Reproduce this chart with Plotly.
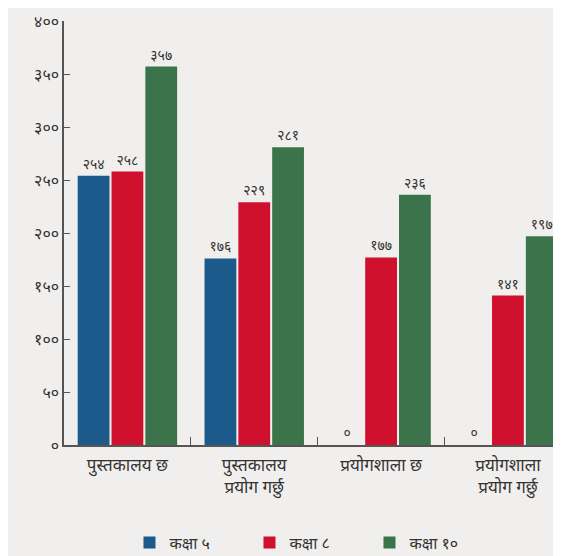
import plotly.graph_objects as go

categories = ["पुस्तकालय छ", "पुस्तकालय<br>प्रयोग गर्छु", "प्रयोगशाला छ", "प्रयोगशाला<br>प्रयोग गर्छु"]
series_names = ["कक्षा ५", "कक्षा ८", "कक्षा १०"]
class5 = [254, 176, 0, 0]
class8 = [258, 229, 177, 141]
class10 = [357, 281, 236, 197]
class5_text = ["२५४", "१७६", "०", "०"]
class8_text = ["२५८", "२२९", "१७७", "१४१"]
class10_text = ["३५७", "२८१", "२३६", "१९७"]
ytick_vals = [0, 50, 100, 150, 200, 250, 300, 350, 400]
ytick_text = ["०", "५०", "१००", "१५०", "२००", "२५०", "३००", "३५०", "४००"]
colors = ["#1b5a8a", "#d0112e", "#3b744a"]

fig = go.Figure()
for name, vals, txt, col in zip(series_names, [class5, class8, class10],
                                [class5_text, class8_text, class10_text], colors):
    fig.add_trace(go.Bar(
        x=categories, y=vals, name=name, text=txt, textposition="outside",
        textfont=dict(size=14, color="#333333"), cliponaxis=False,
        marker=dict(color=col, line=dict(width=0)),
    ))

fig.update_layout(
    width=561, height=556,
    margin=dict(l=56, r=4, t=13, b=106),
    paper_bgcolor="#f1efed", plot_bgcolor="#f1efed",
    barmode="group", bargap=0.2, bargroupgap=0.06,
    font=dict(family="Noto Sans, DejaVu Sans", color="#333333"),
    showlegend=True,
    legend=dict(orientation="h", x=0.49, xanchor="center", y=-0.23, yanchor="middle",
                font=dict(size=16), entrywidth=75, bgcolor="rgba(0,0,0,0)",
                traceorder="normal"),
    xaxis=dict(range=[-0.5, 3.45], showline=True, linecolor="#555555", linewidth=1.5,
               ticks="inside", tickson="boundaries", ticklen=8, tickcolor="#555555",
               ticklabelstandoff=4,
               tickfont=dict(size=17, color="#333333"), showgrid=False, automargin=False),
    yaxis=dict(range=[0, 400], tickvals=ytick_vals, ticktext=ytick_text,
               showline=True, linecolor="#555555", linewidth=1.5,
               ticks="inside", ticklen=6, tickcolor="#555555",
               ticklabeloverflow="allow",
               tickfont=dict(size=16, color="#333333"), showgrid=False, zeroline=False,
               automargin=False),
)

fig.write_html("out.html")
